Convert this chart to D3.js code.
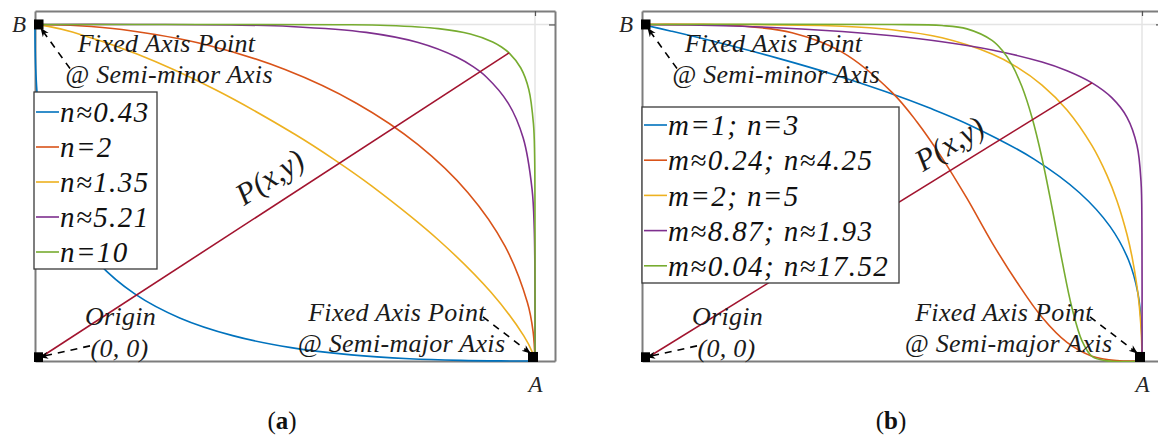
<!DOCTYPE html>
<html>
<head>
<meta charset="utf-8">
<script src="https://cdn.jsdelivr.net/npm/d3@7"></script>
<style>
body { margin: 0; background: #fff; }
text { font-family: "Liberation Serif", "Times New Roman", serif; }
</style>
</head>
<body>
<svg id="vis"></svg>
<script>

//Points, [x/A, y/B]
//panel (a)
var aLabels = ["n\u22480.43", "n=2", "n\u22481.35", "n\u22485.21", "n=10"];
var aN043 = [[0,1],[0.0003,0.9312],[0.0019,0.8510],[0.0068,0.7488],[0.0182,0.6328],[0.0398,0.5122],[0.0754,0.3955],[0.1280,0.2894],[0.1995,0.1995],[0.2894,0.1280],[0.3955,0.0754],[0.5122,0.0398],[0.6328,0.0182],[0.7488,0.0068],[0.8510,0.0019],[0.9312,0.0003],[1,0]];
var aN2 = [[0,1],[0.0872,0.9962],[0.1736,0.9848],[0.3420,0.9397],[0.5,0.8660],[0.6428,0.7660],[0.7660,0.6428],[0.8660,0.5],[0.9397,0.3420],[0.9848,0.1736],[0.9962,0.0872],[1,0]];
var aN135 = [[0,1],[0.0269,0.9944],[0.0747,0.9776],[0.2040,0.9120],[0.3581,0.8081],[0.5196,0.6738],[0.5985,0.5985],[0.6738,0.5196],[0.8081,0.3581],[0.9120,0.2040],[0.9776,0.0747],[0.9944,0.0269],[1,0]];
var aN521 = [[0,1],[0.2,1],[0.3920,0.9985],[0.5106,0.9941],[0.6624,0.9764],[0.7664,0.9463],[0.8440,0.9027],[0.8754,0.8754],[0.9027,0.8440],[0.9463,0.7664],[0.9764,0.6624],[0.9941,0.5106],[0.9985,0.3920],[1,0.2],[1,0]];
var aN10 = [[0,1],[0.3,1],[0.6139,0.9992],[0.7045,0.9969],[0.8069,0.9876],[0.8706,0.9716],[0.9154,0.9481],[0.9330,0.9330],[0.9481,0.9154],[0.9716,0.8706],[0.9876,0.8069],[0.9969,0.7045],[0.9992,0.6139],[1,0.3],[1,0]];
var aRay = [[0,0],[0.9481,0.9154]];

//panel (b)
var bLabels = ["m=1; n=3", "m\u22480.24; n\u22484.25", "m=2; n=5", "m\u22488.87; n\u22481.93", "m\u22480.04; n\u224817.52"];
var bBlue = [[0,1],[0.0588,0.98],[0.1426,0.95],[0.271,0.9],[0.386,0.85],[0.488,0.8],[0.578,0.75],[0.657,0.7],[0.784,0.6],[0.875,0.5],[0.936,0.4],[0.973,0.3],[0.992,0.2],[0.999,0.1],[1,0]];
var bOrange = [[0,1],[0.1,0.9998],[0.2,0.9955],[0.3,0.9753],[0.4,0.9179],[0.5,0.7984],[0.55,0.7103],[0.6,0.6037],[0.65,0.4830],[0.7,0.3519],[0.75,0.2338],[0.8,0.1298],[0.85,0.0551],[0.9,0.0143],[0.95,0.0011],[1,0]];
var bYellow = [[0,1],[0.2,0.9998],[0.4,0.9949],[0.5,0.9843],[0.6,0.9603],[0.7,0.9121],[0.75,0.8733],[0.8,0.8200],[0.85,0.7459],[0.9,0.6399],[0.93,0.5516],[0.95,0.4756],[0.97,0.3759],[0.98,0.3100],[0.99,0.2214],[0.995,0.1573],[0.999,0.0706],[1,0]];
var bPurple = [[0,1],[0.2,0.9949],[0.4,0.9791],[0.5,0.9663],[0.6,0.9487],[0.7,0.9243],[0.8,0.8883],[0.85,0.8625],[0.9,0.8263],[0.94,0.7817],[0.97,0.7241],[0.99,0.6405],[0.998,0.5345],[0.9999,0.3813],[1,0]];
var bGreen = [[0,1],[0.5,0.9999],[0.6,0.9968],[0.65,0.9869],[0.7,0.9528],[0.72,0.9238],[0.74,0.8797],[0.76,0.8147],[0.78,0.7234],[0.8,0.6026],[0.82,0.4561],[0.84,0.2990],[0.86,0.1577],[0.88,0.0599],[0.9,0.0136],[0.93,0.0003],[1,0]];
var bRay = [[0,0],[0.9,0.8263]];

//fixed points (B, A, origin) and the tick on each axis
var fixedPoints = [[0.007,1],[0.996,0.012],[0.006,0.011]];
var tickVals = [1];
var tickNames = ["A", "B"];

var lineColors = ["#0072BD", "#D95319", "#EDB120", "#7E2F8E", "#77AC30"];
var rayColor = "#A2142F";

var width = 1158;
var height = 439;

const svg = d3.select("#vis").attr("width", width).attr("height", height);
var defs = svg.append("defs");

defs.append("marker")
    .attr("id", "arrowhead")
    .attr("viewBox", "0 0 10 10")
    .attr("refX", 9).attr("refY", 5)
    .attr("markerWidth", 9).attr("markerHeight", 9)
    .attr("markerUnits", "userSpaceOnUse")
    .attr("orient", "auto")
    .append("path")
    .attr("d", "M0,1 L10,5 L0,9 L3,5 Z")
    .attr("fill", "#000");

//annotation layout, in axis units (same for both panels)
var notes = [
    {t: "Fixed Axis Point", x: 0.263, y: 0.918},
    {t: "@ Semi-minor Axis", x: 0.268, y: 0.826},
    {t: "Origin", x: 0.171, y: 0.107},
    {t: "(0, 0)", x: 0.169, y: 0.013},
    {t: "Fixed Axis Point", x: 0.724, y: 0.119},
    {t: "@ Semi-major Axis", x: 0.733, y: 0.028}
];
var arrows = [
    [[0.070, 0.869], [0.012, 0.988]],
    [[0.110, 0.045], [0.010, 0.012]],
    [[0.896, 0.131], [0.990, 0.024]]
];

drawPanel({id: "a", left: 35, series: [aN043, aN2, aN135, aN521, aN10], ray: aRay, labels: aLabels,
    legend: {x: 34, y: 92, w: 123, h: 177, first: 20, step: 35}, pLabel: [0.418, 0.46], capX: 282});
drawPanel({id: "b", left: 642, series: [bBlue, bOrange, bYellow, bPurple, bGreen], ray: bRay, labels: bLabels,
    legend: {x: 642, y: 107, w: 257, h: 176, first: 18, step: 35.2}, pLabel: [0.562, 0.561], capX: 891});

function styleAxis(sel) {
    sel.select(".domain").attr("stroke", "#7d7d7d").attr("stroke-width", 2);
    sel.selectAll(".tick line").attr("stroke", "#555").attr("stroke-width", 1.2);
    sel.selectAll(".tick text")
        .style("font-family", "'Liberation Serif', serif")
        .style("font-style", "italic")
        .style("font-size", "23px")
        .attr("fill", "#262626");
}

function drawPanel(cfg) {
    var g = svg.append("g").attr("class", "panel-" + cfg.id);
    var x = d3.scaleLinear().domain([0, 1.04]).range([cfg.left, cfg.left + 520]);
    var y = d3.scaleLinear().domain([0, 1.04]).range([361, 11]);

    //grid at the A and B positions
    g.append("line")
        .attr("x1", x(1)).attr("x2", x(1)).attr("y1", y(0)).attr("y2", y(1.04))
        .attr("stroke", "#e4e4e4").attr("stroke-width", 1.5);
    g.append("line")
        .attr("x1", x(0)).attr("x2", x(1.04)).attr("y1", y(1)).attr("y2", y(1))
        .attr("stroke", "#e4e4e4").attr("stroke-width", 1.5);

    //box: four axes with inward ticks
    g.append("g").attr("transform", "translate(0," + y(0) + ")")
        .call(d3.axisBottom(x).tickValues(tickVals).tickFormat(function(){ return tickNames[0]; })
            .tickSizeInner(-5).tickSizeOuter(0).tickPadding(15))
        .call(styleAxis);
    g.append("g").attr("transform", "translate(0," + y(1.04) + ")")
        .call(d3.axisTop(x).tickValues(tickVals).tickFormat("").tickSizeInner(-5).tickSizeOuter(0))
        .call(styleAxis);
    g.append("g").attr("transform", "translate(" + x(0) + ",0)")
        .call(d3.axisLeft(y).tickValues(tickVals).tickFormat(function(){ return tickNames[1]; })
            .tickSizeInner(-5).tickSizeOuter(0).tickPadding(9))
        .call(styleAxis);
    g.append("g").attr("transform", "translate(" + x(1.04) + ",0)")
        .call(d3.axisRight(y).tickValues(tickVals).tickFormat("").tickSizeInner(-6).tickSizeOuter(0))
        .call(styleAxis);

    defs.append("clipPath").attr("id", "clip-" + cfg.id)
        .append("rect")
        .attr("x", x(0) - 1).attr("y", y(1.04))
        .attr("width", x(1.04) - x(0) + 1).attr("height", y(0) - y(1.04) + 1);

    var plot = g.append("g").attr("clip-path", "url(#clip-" + cfg.id + ")");

    var curve = d3.line()
        .x(function(d){ return x(d[0]); })
        .y(function(d){ return y(d[1]); })
        .curve(d3.curveCatmullRom.alpha(0.5));

    plot.selectAll("path.curve")
        .data(cfg.series)
        .enter()
        .append("path")
        .attr("class", "curve")
        .attr("d", function(d){ return curve(d); })
        .attr("fill", "none")
        .attr("stroke", function(d, i){ return lineColors[i]; })
        .attr("stroke-width", 1.6);

    var straight = d3.line().x(function(d){ return x(d[0]); }).y(function(d){ return y(d[1]); });
    plot.append("path")
        .attr("d", straight(cfg.ray))
        .attr("fill", "none")
        .attr("stroke", rayColor)
        .attr("stroke-width", 1.6);

    plot.selectAll("rect.fixed")
        .data(fixedPoints)
        .enter()
        .append("rect")
        .attr("class", "fixed")
        .attr("x", function(d){ return x(d[0]) - 5; })
        .attr("y", function(d){ return y(d[1]) - 5; })
        .attr("width", 10).attr("height", 10)
        .attr("fill", "#000");

    //dashed arrows to the fixed points
    g.selectAll("line.arrow")
        .data(arrows)
        .enter()
        .append("line")
        .attr("class", "arrow")
        .attr("x1", function(d){ return x(d[0][0]); })
        .attr("y1", function(d){ return y(d[0][1]); })
        .attr("x2", function(d){ return x(d[1][0]); })
        .attr("y2", function(d){ return y(d[1][1]); })
        .attr("stroke", "#000")
        .attr("stroke-width", 1.6)
        .attr("stroke-dasharray", "7,6")
        .attr("marker-end", "url(#arrowhead)");

    g.selectAll("text.note")
        .data(notes)
        .enter()
        .append("text")
        .attr("class", "note")
        .attr("x", function(d){ return x(d.x); })
        .attr("y", function(d){ return y(d.y); })
        .attr("text-anchor", "middle")
        .style("font-style", "italic")
        .style("font-size", "26px")
        .style("letter-spacing", "0.3px")
        .attr("fill", "#1a1a1a")
        .text(function(d){ return d.t; });

    //P(x,y) along the ray
    var dx = x(cfg.ray[1][0]) - x(cfg.ray[0][0]);
    var dy = y(cfg.ray[1][1]) - y(cfg.ray[0][1]);
    var angle = Math.atan2(dy, dx) * 180 / Math.PI;
    g.append("text")
        .attr("transform", "translate(" + x(cfg.pLabel[0]) + "," + y(cfg.pLabel[1]) + ") rotate(" + angle + ")")
        .style("font-style", "italic")
        .style("font-size", "31px")
        .attr("fill", "#1a1a1a")
        .text("P(x,y)");

    //legend
    var L = cfg.legend;
    var leg = g.append("g").attr("class", "legend");
    leg.append("rect")
        .attr("x", L.x).attr("y", L.y).attr("width", L.w).attr("height", L.h)
        .attr("fill", "#fff").attr("stroke", "#3a3a3a").attr("stroke-width", 1.3);
    var rows = leg.selectAll("g.row")
        .data(cfg.labels)
        .enter()
        .append("g")
        .attr("class", "row")
        .attr("transform", function(d, i){ return "translate(" + L.x + "," + (L.y + L.first + i * L.step) + ")"; });
    rows.append("line")
        .attr("x1", 2).attr("x2", 25).attr("y1", 0).attr("y2", 0)
        .attr("stroke", function(d, i){ return lineColors[i]; })
        .attr("stroke-width", 1.6);
    rows.append("text")
        .attr("x", 26).attr("y", 0).attr("dy", "0.35em")
        .style("font-style", "italic")
        .style("font-size", "29px")
        .style("letter-spacing", "1.4px")
        .attr("fill", "#111")
        .text(function(d){ return d; });

    //panel caption
    var cap = g.append("text")
        .attr("x", cfg.capX).attr("y", 429)
        .attr("text-anchor", "middle")
        .style("font-size", "25px")
        .attr("fill", "#111");
    cap.append("tspan").text("(");
    cap.append("tspan").style("font-weight", "bold").text(cfg.id);
    cap.append("tspan").text(")");
}

</script>
</body>
</html>
